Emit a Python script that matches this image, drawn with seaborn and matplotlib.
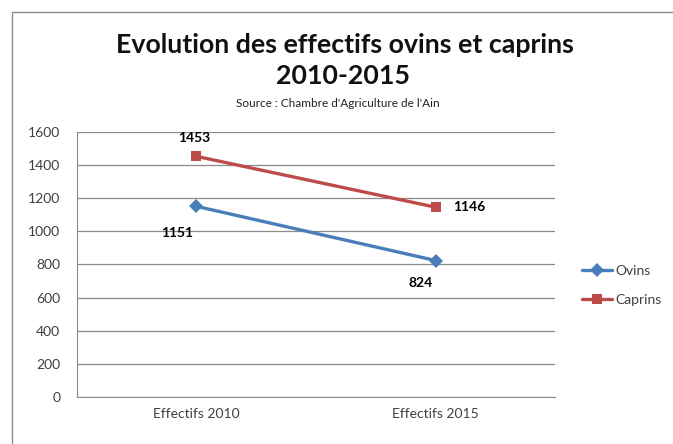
import pandas as pd
import seaborn as sns
import matplotlib.pyplot as plt
from matplotlib.patches import Rectangle

categories = ["Effectifs 2010", "Effectifs 2015"]
ovins = [1151, 824]
caprins = [1453, 1146]
series_names = ["Ovins", "Caprins"]
colors = {"Ovins": "#4a7ebb", "Caprins": "#be4b48"}

df = pd.DataFrame({
    "periode": categories * 2,
    "effectif": ovins + caprins,
    "serie": [series_names[0]] * 2 + [series_names[1]] * 2,
})

sns.set_style("white")
plt.rcParams["font.family"] = ["Lato", "DejaVu Sans"]

fig = plt.figure(figsize=(6.73, 4.44), dpi=100)
ax = fig.add_axes([0.1144, 0.1059, 0.7103, 0.5968])

# chart frame like the spreadsheet chart area
fig.patches.append(Rectangle((12 / 673, -0.01), 1.0, 1 - 12 / 444 + 0.01,
                             transform=fig.transFigure, fill=False,
                             edgecolor="#8c8c8c", linewidth=1.0))

sns.lineplot(data=df, x="periode", y="effectif", hue="serie", style="serie",
             markers={"Ovins": "D", "Caprins": "s"}, dashes=False,
             palette=colors, linewidth=2.4, markersize=7, markeredgewidth=0,
             ax=ax)

ax.set_xlim(-0.5, 1.5)
ax.set_ylim(0, 1600)
ax.set_yticks(range(0, 1601, 200))
ax.yaxis.grid(True, color="#8a8a8a", linewidth=0.9)
ax.set_axisbelow(True)
for side in ["top", "right"]:
    ax.spines[side].set_visible(False)
for side in ["left", "bottom"]:
    ax.spines[side].set_color("#8a8a8a")
ax.tick_params(axis="both", length=0, labelsize=10, colors="#404040", pad=8)
ax.tick_params(axis="y", pad=12)
ax.set_xlabel("")
ax.set_ylabel("")

# data labels
offsets = {
    ("Ovins", 0): (-14, -19), ("Ovins", 1): (-11, -16),
    ("Caprins", 0): (-2, 13), ("Caprins", 1): (24, 0),
}
for name, vals in [("Ovins", ovins), ("Caprins", caprins)]:
    for i, v in enumerate(vals):
        ax.annotate(str(v), (i, v), xytext=offsets[(name, i)],
                    textcoords="offset points", ha="center", va="center",
                    fontsize=10, fontweight="bold", color="black")

fig.text(0.512, 0.898, "Evolution des effectifs ovins et caprins", ha="center",
         va="center", fontsize=19.3, fontweight="bold", color="#111111")
fig.text(0.51, 0.828, "2010-2015", ha="center", va="center", fontsize=19.3,
         fontweight="bold", color="#111111")
fig.text(0.502, 0.766, "Source : Chambre d'Agriculture de l'Ain", ha="center",
         va="center", fontsize=8.5, color="#222222")

leg = ax.legend(loc="center left", bbox_to_anchor=(1.03, 0.42), frameon=False,
                fontsize=10, handlelength=2.2, labelspacing=1.2,
                handletextpad=0.2)
for t in leg.get_texts():
    t.set_color("#404040")

fig.savefig("out.png", dpi=100)
